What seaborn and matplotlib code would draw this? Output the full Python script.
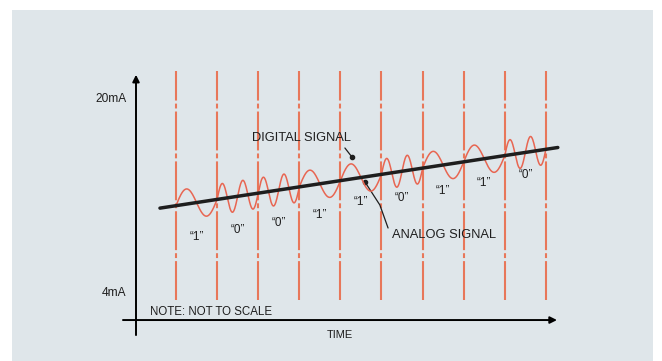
import numpy as np
import pandas as pd
import seaborn as sns
import matplotlib.pyplot as plt
from matplotlib.patches import Rectangle

# bit cells between the red boundary lines (time in bit periods)
bits = ['1', '0', '0', '1', '1', '0', '1', '1', '0']
boundaries = list(range(len(bits) + 1))
bit_label_ma = [8.6, 9.2, 9.8, 10.4, 11.5, 11.8, 12.4, 13.1, 13.7]

# analog 4-20 mA level (straight ramp)
analog_t = [-0.39, 9.29]
analog_ma = [11.0, 16.0]
wave_amp = 1.25

# axis ticks
y_labels = ['4mA', '20mA']
y_values = [4, 20]

bg = '#dfe6ea'
red_line = '#e8775a'
red_wave = '#e86652'
ink = '#1e1e1e'

sns.set_theme(style='white')
plt.rcParams['font.family'] = ['Liberation Sans', 'DejaVu Sans']
plt.rcParams['lines.scale_dashes'] = False

fig = plt.figure(figsize=(6.62, 3.61), dpi=100)
fig.patch.set_facecolor('white')
fig.patches.append(Rectangle((12 / 662, 0), 641 / 662, 351 / 361,
                             transform=fig.transFigure, facecolor=bg,
                             edgecolor='none', zorder=-1))
ax = fig.add_axes([0, 0, 1, 1])
ax.set_facecolor('none')
ax.set_xlim(-4.282, 11.825)
ax.set_ylim(-1.608, 28.165)
ax.axis('off')

# FSK wave: one cycle for "1", two cycles for "0", riding on the analog ramp
slope = (analog_ma[1] - analog_ma[0]) / (analog_t[1] - analog_t[0])
ts, ys = [], []
phase = 0.0
for i, b in enumerate(bits):
    cycles = 1 if b == '1' else 2
    t = np.linspace(i, i + 1, 120)
    ph = phase + 2 * np.pi * cycles * (t - i)
    ts.extend(t)
    ys.extend(analog_ma[0] + slope * (t - analog_t[0]) + wave_amp * np.sin(ph))
    phase += 2 * np.pi * cycles
wave = pd.DataFrame({'t': ts, 'ma': ys})

# red bit boundaries
for b in boundaries:
    ax.plot([b, b], [3.42, 22.3], color=red_line, lw=1.5,
            dashes=(28, 2.2, 3.5, 2.2), zorder=2)

sns.lineplot(data=wave, x='t', y='ma', ax=ax, color=red_wave, lw=1.1,
             sort=False, zorder=3)
sns.lineplot(x=analog_t, y=analog_ma, ax=ax, color=ink, lw=2.5, zorder=4)

# axes arrows
ax.annotate('', xy=(-0.973, 22.0), xytext=(-0.973, 0.53),
            arrowprops=dict(arrowstyle='-|>', color='black', lw=1.4,
                            mutation_scale=10, shrinkA=0, shrinkB=0))
ax.annotate('', xy=(9.27, 1.77), xytext=(-1.29, 1.77),
            arrowprops=dict(arrowstyle='-|>', color='black', lw=1.4,
                            mutation_scale=10, shrinkA=0, shrinkB=0))

for lab, v in zip(y_labels, y_values):
    ax.text(-1.2, v, lab, ha='right', va='center', fontsize=8.6, color=ink)

for i, (b, v) in enumerate(zip(bits, bit_label_ma)):
    ax.text(i + 0.5, v, f'\u201c{b}\u201d', ha='center', va='center',
            fontsize=8.5, color=ink)

# leaders
ax.text(1.86, 16.78, 'DIGITAL SIGNAL', ha='left', va='center', fontsize=9.3,
        color=ink)
ax.plot([4.11, 4.28], [15.96, 15.22], color=ink, lw=0.9)
ax.plot([4.28], [15.22], 'o', color=ink, ms=3)
ax.text(5.26, 8.8, 'ANALOG SIGNAL', ha='left', va='center', fontsize=9.3,
        color=ink)
ax.plot([5.16, 4.96, 4.6], [9.36, 11.26, 13.15], color=ink, lw=0.9)
ax.plot([4.6], [13.15], 'o', color=ink, ms=3)

ax.text(-0.63, 1.95, 'NOTE: NOT TO SCALE', ha='left', va='bottom',
        fontsize=8.3, color=ink)
ax.text(3.98, 0.52, 'TIME', ha='center', va='center', fontsize=8, color=ink)

fig.savefig('out.png', dpi=100)
